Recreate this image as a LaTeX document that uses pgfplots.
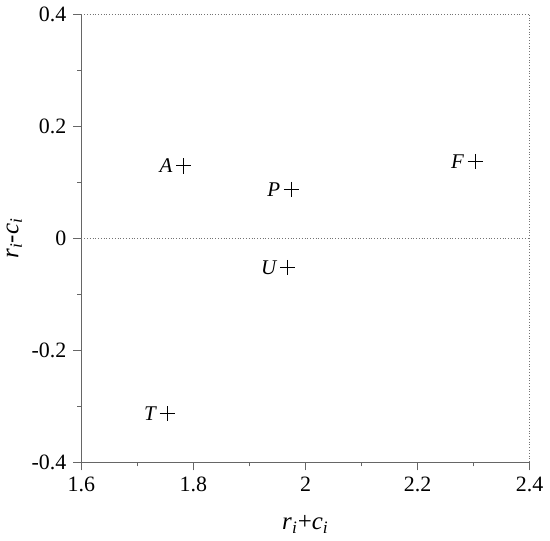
\documentclass[border=0pt]{standalone}
\usepackage{fontspec}
\setmainfont{Liberation Serif}
\usepackage{pgfplots}
\pgfplotsset{compat=1.18}

\pgfplotstableread{
x      y      lab
1.783  0.129  A
1.975  0.087  P
2.303  0.137  F
1.968  -0.052 U
1.753  -0.313 T
}\pointsdata

\begin{document}
\begin{tikzpicture}
\begin{axis}[
  width=225pt, height=225pt, scale only axis,
  xmin=1.6, xmax=2.4, ymin=-0.4, ymax=0.4,
  axis x line*=bottom, axis y line*=left,
  axis line style={-, black!60, line width=0.5pt},
  xtick={1.6,1.8,2,2.2,2.4},
  ytick={-0.4,-0.2,0,0.2,0.4},
  minor x tick num=1, minor y tick num=1,
  tick align=outside,
  major tick length=4pt, minor tick length=2pt,
  tick style={black!60, line width=0.5pt},
  /pgf/number format/assume math mode=true,
  ticklabel style={font=\fontsize{11}{13}\selectfont},
  xlabel={\textit{r}\textsubscript{\textit{i}}+\textit{c}\textsubscript{\textit{i}}},
  ylabel={\textit{r}\textsubscript{\textit{i}}-\textit{c}\textsubscript{\textit{i}}},
  label style={font=\fontsize{12.5}{14}\selectfont},
  xlabel shift=5pt, ylabel shift=-2pt,
  clip=false,
]
\draw[black!55, densely dotted, line width=0.4pt] (rel axis cs:0,1) -- (rel axis cs:1,1) -- (rel axis cs:1,0);
\draw[black!55, densely dotted, line width=0.4pt] (rel axis cs:0,0.5) -- (rel axis cs:1,0.5);
\addplot[only marks, mark=+, mark size=3.8pt, black, mark options={line width=0.45pt},
  nodes near coords, point meta=explicit symbolic,
  every node near coord/.style={anchor=east, inner sep=0pt, xshift=-5.5pt,
    font=\fontsize{10.5}{12}\selectfont\itshape}]
  table[x=x, y=y, meta=lab] {\pointsdata};
\end{axis}
\end{tikzpicture}
\end{document}
